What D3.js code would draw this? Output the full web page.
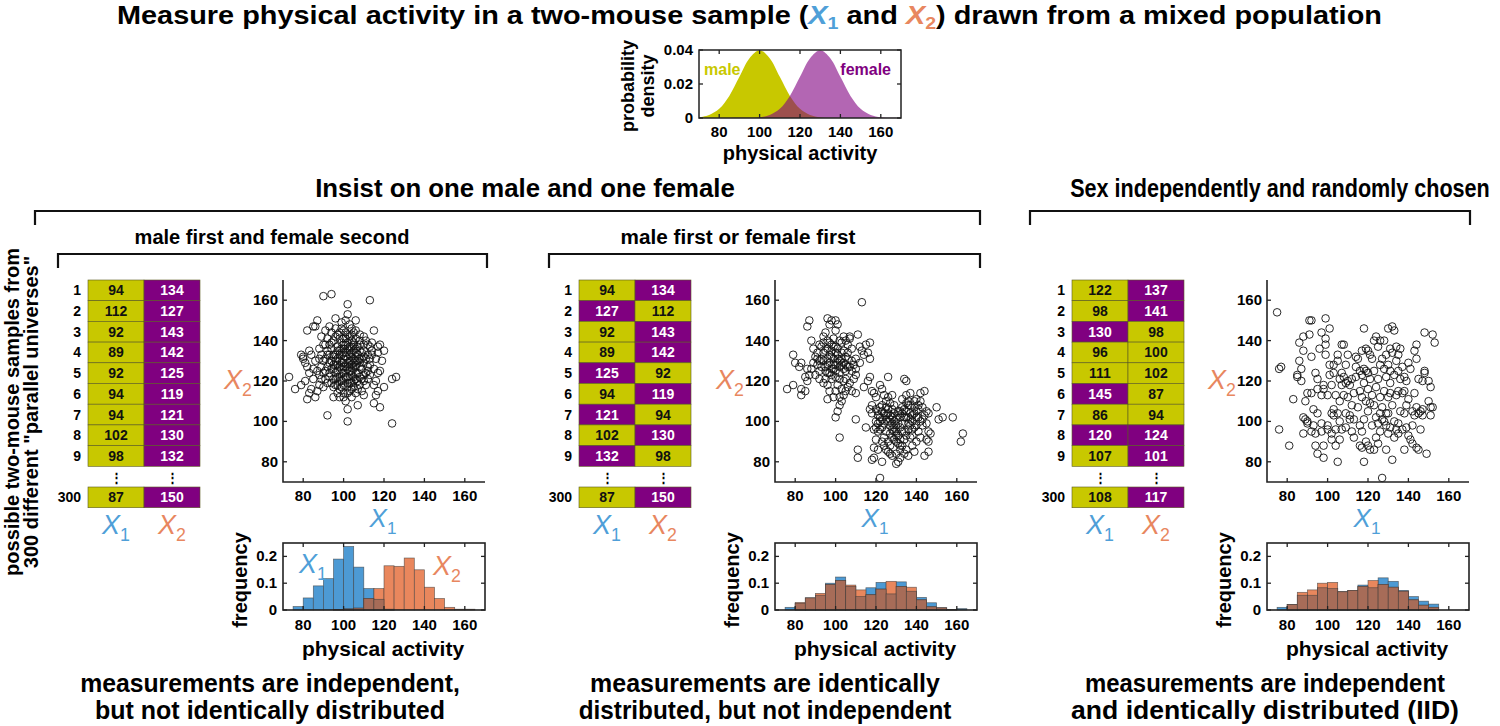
<!DOCTYPE html>
<html>
<head>
<meta charset="utf-8">
<script src="https://cdn.jsdelivr.net/npm/d3@7"></script>
<style>
body { margin: 0; background: #fff; }
svg { display: block; font-family: "Liberation Sans", Arial, sans-serif; }
</style>
</head>
<body>
<svg id="fig" width="1500" height="726"></svg>
<script>
// ---- data ----
var densX = [70,75,80,85,90,95,100,105,110,115,120,125,130,135,140,145,150,155,160,165,170];
var densMale = [0.0004,0.0018,0.0054,0.013,0.0242,0.0352,0.0399,0.0352,0.0242,0.013,0.0054,0.0018,0.0004,0.0001,0,0,0,0,0,0,0];
var densFemale = [0,0,0,0,0.0001,0.0001,0.0004,0.0018,0.0054,0.013,0.0242,0.0352,0.0399,0.0352,0.0242,0.013,0.0054,0.0018,0.0004,0.0001,0];

var rowLabels = ["1","2","3","4","5","6","7","8","9","300"];

var t1X1 = [94,112,92,89,92,94,94,102,98,87];
var t1X2 = [134,127,143,142,125,119,121,130,132,150];
var t1S1 = ["m","m","m","m","m","m","m","m","m","m"];
var t1S2 = ["f","f","f","f","f","f","f","f","f","f"];

var t2X1 = [94,127,92,89,125,94,121,102,132,87];
var t2X2 = [134,112,143,142,92,119,94,130,98,150];
var t2S1 = ["m","f","m","m","f","m","f","m","f","m"];
var t2S2 = ["f","m","f","f","m","f","m","f","m","f"];

var t3X1 = [122,98,130,96,111,145,86,120,107,108];
var t3X2 = [137,141,98,100,102,87,94,124,101,117];
var t3S1 = ["m","m","f","m","m","f","m","f","m","m"];
var t3S2 = ["f","f","m","m","m","m","m","f","f","f"];

var scatter1 = [[90,162],[94,163],[102,158],[113,160],[102,153],[96,151],[101,150],[106,150],[87,150],[85,147],[82,145],[86,147],[115,145],[89,142],[91,145],[93,147],[99,149],[104,146],[108,143],[118,138],[120,135],[117,137],[114,139],[79,133],[80,131],[81,129],[83,135],[84,133],[86,130],[73,122],[76,116],[79,118],[81,120],[82,111],[83,114],[84,116],[86,112],[87,115],[85,121],[88,123],[90,117],[92,103],[95,112],[100,112],[101,110],[102,106],[102,100],[104,112],[107,108],[110,113],[115,109],[118,107],[120,117],[124,121],[126,122],[124,99],[115,118],[116,120],[117,124],[118,125],[116,113],[117,115],[115,126],[119,130],[112,133],[110,135],[108,138],[111,140],[113,137],[112,125],[110,120],[108,118],[107,116],[105,117],[103,119],[100,118],[98,120],[97,122],[95,121],[93,124],[92,127],[90,130],[89,133],[88,136],[90,138],[92,135],[94,139],[96,142],[98,144],[100,141],[102,143],[104,140],[106,141],[107,137],[105,135],[103,137],[101,138],[99,136],[97,135],[95,133],[94,130],[96,128],[98,127],[100,129],[102,131],[104,132],[106,130],[108,131],[110,129],[109,126],[107,124],[105,126],[103,127],[101,125],[99,124],[97,125],[95,126],[94,119],[96,118],[98,116],[100,121],[102,122],[104,123],[106,121],[108,122],[110,123],[112,121],[113,128],[111,131],[109,134],[107,133],[105,129],[103,130],[101,132],[99,133],[97,131],[95,132],[93,129],[91,125],[89,127],[88,131],[87,125],[99,139],[101,141],[103,135],[105,138],[100,134],[102,126],[104,128],[98,130],[96,124],[100,127],[102,119],[104,125],[106,127],[108,127],[93,133],[91,131],[85,126],[83,124],[82,127],[80,132],[114,133],[116,131],[113,123],[111,118],[109,115],[103,115],[99,117],[97,114],[95,117],[106,134],[104,137],[98,141],[96,146],[94,144],[92,141],[91,138],[100,145],[103,148],[105,144],[108,140],[110,142],[112,138],[114,135],[117,134],
[96,130],[97,128],[98,133],[99,126],[100,131],[101,127],[102,129],[103,133],[104,130],[105,131],[106,128],[97,137],[99,129],[101,134],[103,125],[105,122],[100,124],[98,122],[96,121],[102,117],[104,119],[106,124],[108,129],[107,130],[109,131],[100,136],[102,139],[104,134],[95,128],[94,126],[93,122],[92,119],[91,121],[90,124],[89,121],[88,118],[106,114],[104,116],[102,114],[100,114],[98,112],[97,118],[99,120],[101,122],[103,121],[105,120],[107,120],[109,121],[111,124],[112,127],[110,132],[108,135],[106,136],[105,139],[103,142],[101,144],[99,146],[97,143],[95,140],[93,138],[92,133],[94,136],[96,133],[98,135],[100,138],[102,136],[104,143],[106,145],[110,138],[113,131]];

var scatter2 = [[76,116],[79,118],[79,133],[80,129],[82,127],[83,129],[83,116],[83,113],[85,115],[86,120],[85,122],[86,126],[87,123],[86,147],[87,150],[88,140],[89,136],[90,132],[91,131],[93,137],[94,142],[95,144],[96,151],[97,148],[98,150],[100,150],[101,148],[100,145],[99,141],[97,139],[95,135],[94,130],[96,128],[98,126],[99,131],[100,134],[101,129],[102,127],[103,131],[104,135],[105,132],[106,138],[107,141],[108,130],[109,128],[110,126],[111,143],[112,137],[113,135],[115,138],[117,139],[117,131],[116,134],[114,133],[112,129],[110,123],[108,125],[106,127],[104,126],[102,124],[100,122],[98,121],[96,118],[95,121],[94,119],[96,111],[100,115],[100,102],[101,105],[102,108],[103,110],[102,112],[104,113],[105,115],[106,117],[108,115],[110,114],[113,159],[102,92],[110,101],[111,82],[111,86],[115,97],[114,117],[116,120],[117,122],[118,115],[118,108],[97,124],[99,128],[101,136],[103,139],[105,140],[107,142],[93,127],[92,125],[95,125],[97,133],[99,137],[101,131],[103,128],[105,125],[107,127],[96,136],[98,138],[94,134],[92,130],[91,134],[118,81],[119,82],[119,87],[121,86],[120,91],[122,72],[123,80],[121,95],[120,97],[120,100],[122,102],[121,105],[122,107],[123,108],[124,104],[125,110],[124,113],[123,116],[122,118],[126,122],[125,95],[124,92],[126,90],[127,88],[128,96],[128,102],[129,104],[129,100],[130,98],[130,95],[131,93],[132,91],[130,90],[131,80],[130,79],[132,86],[133,88],[134,84],[135,86],[133,99],[134,102],[135,105],[136,108],[135,113],[136,110],[135,120],[134,121],[137,104],[138,100],[138,96],[137,92],[138,88],[139,85],[140,90],[141,95],[140,102],[141,106],[142,110],[142,114],[143,98],[144,103],[145,105],[146,104],[144,115],[145,91],[146,95],[146,90],[147,94],[146,85],[144,83],[150,107],[151,101],[153,102],[158,102],[162,90],[163,94],[127,84],[128,106],[129,108],[131,103],[132,105],[133,107],[126,100],[127,98],[125,101],[123,97],[126,112],[128,113],[132,97],[131,99],[137,98],[139,97],[136,102],[139,107],[140,111],[143,107],[137,114],[134,95],[135,93],[132,82],[129,91],[125,86],[124,88],[121,99],[122,96],[119,96],[117,106],[118,104],[119,114],[120,112],[126,104],[127,103],
[95,127],[96,131],[97,129],[98,132],[99,126],[100,128],[101,133],[102,130],[103,134],[104,129],[105,128],[106,131],[96,124],[98,123],[100,125],[102,121],[104,120],[93,131],[92,138],[94,139],[96,140],[98,135],[100,137],[102,140],[104,142],[106,134],[108,136],[110,131],[109,121],[107,119],[97,115],[99,112],[101,118],[103,116],[105,121],[91,128],[89,129],[88,126],[90,123],[92,121],
[125,103],[126,106],[127,101],[128,99],[129,97],[130,101],[131,105],[132,102],[133,104],[134,106],[135,102],[136,99],[137,101],[138,103],[139,104],[140,105],[141,102],[142,100],[129,95],[130,93],[131,89],[132,88],[128,92],[127,94],[124,99],[123,101],[122,100],[121,103],[120,106],[123,105],[125,107],[127,109],[133,111],[135,109],[137,108],[139,110],[141,108],[136,96],[134,91],[133,95],[138,93],[140,98],[143,101],[145,99],[142,92],[126,85],[128,83],[130,84],[136,83],[123,90]];

var scatter3 = [[75,154],[76,126],[77,127],[76,96],[81,88],[83,111],[85,122],[85,123],[86,139],[86,130],[87,126],[87,120],[88,142],[88,135],[88,94],[89,110],[89,101],[90,100],[90,99],[91,143],[91,150],[92,150],[92,132],[92,114],[92,95],[93,106],[94,124],[94,94],[94,88],[95,121],[95,116],[95,104],[95,84],[96,136],[97,144],[97,113],[97,99],[97,95],[98,118],[98,116],[98,88],[98,82],[99,151],[99,141],[99,138],[99,133],[100,113],[100,98],[101,146],[101,128],[101,123],[102,118],[102,94],[102,91],[103,128],[103,124],[103,106],[103,103],[104,113],[104,88],[104,96],[105,133],[105,130],[105,104],[105,80],[106,110],[106,100],[106,91],[107,138],[107,124],[107,118],[107,96],[108,138],[108,122],[108,113],[109,128],[109,119],[109,104],[109,97],[110,133],[110,120],[110,112],[111,118],[111,103],[112,121],[112,108],[112,95],[113,114],[113,101],[114,122],[114,132],[115,131],[115,107],[116,125],[116,115],[116,98],[116,88],[117,135],[117,123],[117,112],[117,95],[117,87],[118,146],[118,126],[118,119],[118,101],[118,80],[119,136],[119,110],[119,90],[120,135],[120,124],[120,116],[120,105],[120,88],[121,133],[121,121],[121,86],[122,131],[122,113],[122,98],[123,140],[123,125],[123,108],[123,86],[124,142],[124,117],[124,102],[125,137],[125,121],[125,99],[125,89],[126,140],[126,128],[126,112],[126,104],[126,95],[127,131],[127,107],[127,72],[128,126],[128,140],[128,100],[128,115],[129,133],[129,122],[129,98],[129,86],[130,146],[130,128],[130,112],[130,104],[130,94],[131,136],[131,125],[131,119],[131,97],[132,147],[132,134],[132,108],[132,81],[133,145],[133,123],[133,100],[133,92],[134,137],[134,130],[134,113],[134,96],[135,133],[135,115],[135,99],[135,94],[136,136],[136,121],[136,105],[137,127],[137,114],[137,96],[138,122],[138,104],[138,86],[139,120],[139,108],[139,97],[140,129],[140,111],[140,93],[141,126],[141,91],[142,105],[142,89],[143,135],[143,114],[143,103],[144,138],[144,131],[144,107],[144,87],[145,121],[145,104],[145,86],[146,105],[146,96],[147,120],[147,106],[148,144],[148,125],[148,124],[149,84],[150,110],[150,120],[151,117],[151,107],[151,103],[152,143],[152,107],[153,139],[88,102],[90,114],[93,98],[100,96],[102,104],[106,121],[111,101],[113,92],[114,127],[119,125],[121,109],[124,92],[127,101],[129,104],[131,114],[135,125],[138,115],[142,98],[147,103]];

var binStarts = [75,80,85,90,95,100,105,110,115,120,125,130,135,140,145,150,155,160];
var hist1X1 = [0.013,0.045,0.09,0.117,0.19,0.237,0.16,0.08,0.04,0.003,0,0,0,0,0,0,0,0];
var hist1X2 = [0,0,0,0,0.002,0.004,0.007,0.043,0.08,0.165,0.163,0.194,0.15,0.085,0.043,0.01,0.003,0.003];
var hist2X1 = [0.01,0.025,0.045,0.055,0.1,0.123,0.088,0.05,0.083,0.103,0.06,0.105,0.07,0.047,0.027,0.008,0.002,0.005];
var hist2X2 = [0,0.028,0.045,0.062,0.095,0.11,0.093,0.075,0.057,0.078,0.107,0.088,0.085,0.038,0.012,0.008,0.002,0];
var hist3X1 = [0.01,0.02,0.055,0.055,0.083,0.08,0.068,0.073,0.093,0.083,0.12,0.107,0.073,0.05,0.033,0.022,0,0];
var hist3X2 = [0,0.02,0.066,0.075,0.1,0.103,0.068,0.073,0.088,0.11,0.095,0.085,0.07,0.038,0.018,0.01,0,0];

var actTicks = [80,100,120,140,160];
var freqTicks = [0,0.1,0.2];
var densTicks = [0,0.02,0.04];

// ---- colours ----
var YELLOW = "#c8c800", PURPLE = "#800080";
var BLUE = "#4f9fd8", ORANGE = "#e8875f";
var HBLUE = "#4d9ad4", HORANGE = "#e9875d", HBROWN = "#a76c58";

var svg = d3.select("#fig");

// "X" with a subscript
function xSym(g, x, y, n, size, color) {
    var t = g.append("text").attr("x", x).attr("y", y)
        .attr("text-anchor", "middle").attr("fill", color)
        .attr("font-size", size);
    t.append("tspan").attr("font-style", "italic").text("X");
    t.append("tspan").attr("font-size", size * 0.66).attr("dy", size * 0.25).text(n);
    return t;
}

function bracket(x1, x2, y, drop) {
    svg.append("path")
        .attr("d", "M" + x1 + "," + (y + drop) + "V" + y + "H" + x2 + "V" + (y + drop))
        .attr("fill", "none").attr("stroke", "#111").attr("stroke-width", 2.2);
}

// condensed bold headings: squeeze horizontally to the width seen in the figure
function header(x, y, txt, size, len) {
    var t = svg.append("text").attr("x", 0).attr("y", 0)
        .attr("text-anchor", "middle")
        .attr("font-weight", "bold").attr("font-size", size)
        .text(txt);
    var w = t.node().getComputedTextLength();
    t.attr("transform", "translate(" + x + "," + y + ")scale(" + (len / w) + ",1)");
}

// ---- title ----
var title = svg.append("text").attr("x", 0).attr("y", 0)
    .attr("font-weight", "bold").attr("font-size", 25);
title.append("tspan").text("Measure physical activity in a two-mouse sample (");
title.append("tspan").attr("font-style", "italic").attr("fill", BLUE).text("X");
title.append("tspan").attr("fill", BLUE).attr("font-size", 17).attr("dy", 5).text("1");
title.append("tspan").attr("dy", -5).text(" and ");
title.append("tspan").attr("font-style", "italic").attr("fill", ORANGE).text("X");
title.append("tspan").attr("fill", ORANGE).attr("font-size", 17).attr("dy", 5).text("2");
title.append("tspan").attr("dy", -5).text(") drawn from a mixed population");
(function() {
    var w = title.node().getComputedTextLength();
    title.attr("transform", "translate(117,24)scale(" + (1265 / w) + ",1)");
})();

// ---- density plot ----
(function() {
    var x = d3.scaleLinear().domain([70, 170]).range([699, 901]);
    var y = d3.scaleLinear().domain([0, 0.04]).range([118, 50]);
    var g = svg.append("g");
    g.append("defs").append("clipPath").attr("id", "dclip")
        .append("rect").attr("x", 699).attr("y", 50).attr("width", 202).attr("height", 68);
    var area = d3.area().x(function(d, i) { return x(densX[i]); })
        .y0(y(0)).y1(function(d) { return y(d); }).curve(d3.curveCatmullRom);
    g.append("path").datum(densMale).attr("d", area).attr("fill", YELLOW).attr("clip-path", "url(#dclip)");
    g.append("path").datum(densFemale).attr("d", area).attr("fill", PURPLE).attr("fill-opacity", 0.6).attr("clip-path", "url(#dclip)");
    g.append("rect").attr("x", 699).attr("y", 50).attr("width", 202).attr("height", 68)
        .attr("fill", "none").attr("stroke", "#222").attr("stroke-width", 1.5);
    actTicks.forEach(function(t) {
        g.append("line").attr("x1", x(t)).attr("x2", x(t)).attr("y1", 118).attr("y2", 114).attr("stroke", "#222").attr("stroke-width", 1.3);
        g.append("line").attr("x1", x(t)).attr("x2", x(t)).attr("y1", 50).attr("y2", 54).attr("stroke", "#222").attr("stroke-width", 1.3);
        g.append("text").attr("x", x(t)).attr("y", 137).attr("text-anchor", "middle")
            .attr("font-weight", "bold").attr("font-size", 15).text(t);
    });
    densTicks.forEach(function(t) {
        g.append("line").attr("x1", 699).attr("x2", 703).attr("y1", y(t)).attr("y2", y(t)).attr("stroke", "#222").attr("stroke-width", 1.3);
        g.append("line").attr("x1", 901).attr("x2", 897).attr("y1", y(t)).attr("y2", y(t)).attr("stroke", "#222").attr("stroke-width", 1.3);
        g.append("text").attr("x", 693).attr("y", y(t) + 5).attr("text-anchor", "end")
            .attr("font-weight", "bold").attr("font-size", 15).text(t === 0 ? "0" : t.toFixed(2));
    });
    g.append("text").attr("x", 704).attr("y", 75).attr("fill", YELLOW)
        .attr("font-weight", "bold").attr("font-size", 16).text("male");
    g.append("text").attr("x", 891).attr("y", 75).attr("text-anchor", "end").attr("fill", PURPLE)
        .attr("font-weight", "bold").attr("font-size", 16).text("female");
    g.append("text").attr("x", 800).attr("y", 160).attr("text-anchor", "middle")
        .attr("font-weight", "bold").attr("font-size", 20).text("physical activity");
    g.append("text").attr("transform", "translate(634,86)rotate(-90)").attr("text-anchor", "middle")
        .attr("font-weight", "bold").attr("font-size", 18).text("probability");
    g.append("text").attr("transform", "translate(654,86)rotate(-90)").attr("text-anchor", "middle")
        .attr("font-weight", "bold").attr("font-size", 18).text("density");
})();

// ---- headers and brackets ----
header(525, 197, "Insist on one male and one female", 26, 420);
header(1280, 197, "Sex independently and randomly chosen", 26, 420);
bracket(35, 980, 211, 14);
bracket(1030, 1470, 211, 14);
header(272, 244, "male first and female second", 20, 275);
header(738, 244, "male first or female first", 20, 235);
bracket(58, 487, 254, 14);
bracket(549, 980, 254, 14);

// rotated side label
svg.append("text").attr("transform", "translate(19,412)rotate(-90)").attr("text-anchor", "middle")
    .attr("font-weight", "bold").attr("font-size", 20).text("possible two-mouse samples from");
svg.append("text").attr("transform", "translate(38,412)rotate(-90)").attr("text-anchor", "middle")
    .attr("font-weight", "bold").attr("font-size", 20).text("300 different \"parallel universes\"");

// ---- tables ----
function drawTable(left, v1, v2, s1, s2) {
    var g = svg.append("g");
    var cw = 56, rh = 20.7;
    var rowY = function(i) { return i < 9 ? 280 + i * rh : 487; };
    var cols = [[v1, s1], [v2, s2]];
    cols.forEach(function(c, ci) {
        var cx = left + ci * cw;
        g.selectAll(null).data(c[0]).enter().append("rect")
            .attr("x", cx).attr("y", function(d, i) { return rowY(i); })
            .attr("width", cw).attr("height", rh)
            .attr("fill", function(d, i) { return c[1][i] === "m" ? YELLOW : PURPLE; })
            .attr("stroke", "#5a5a20").attr("stroke-width", 0.6);
        g.selectAll(null).data(c[0]).enter().append("text")
            .attr("x", cx + cw / 2).attr("y", function(d, i) { return rowY(i) + rh / 2 + 5; })
            .attr("text-anchor", "middle").attr("font-weight", "bold").attr("font-size", 14)
            .attr("fill", function(d, i) { return c[1][i] === "m" ? "#111" : "#fff"; })
            .text(function(d) { return d; });
        g.append("text").attr("x", cx + cw / 2).attr("y", 482).attr("text-anchor", "middle")
            .attr("font-weight", "bold").attr("font-size", 13).text("\u22ee");
    });
    g.selectAll(null).data(rowLabels).enter().append("text")
        .attr("x", left - 7).attr("y", function(d, i) { return rowY(i) + rh / 2 + 5; })
        .attr("text-anchor", "end").attr("font-weight", "bold").attr("font-size", 14)
        .text(function(d) { return d; });
    xSym(g, left + cw / 2, 534, "1", 27, BLUE);
    xSym(g, left + cw * 1.5, 534, "2", 27, ORANGE);
}
drawTable(88, t1X1, t1X2, t1S1, t1S2);
drawTable(579, t2X1, t2X2, t2S1, t2S2);
drawTable(1072, t3X1, t3X2, t3S1, t3S2);

// ---- scatter plots ----
function drawScatter(left, pts) {
    var g = svg.append("g");
    var x = d3.scaleLinear().domain([70, 170]).range([left, left + 202]);
    var y = d3.scaleLinear().domain([70, 170]).range([482, 280]);
    g.selectAll("circle").data(pts).enter().append("circle")
        .attr("cx", function(d) { return x(d[0]); }).attr("cy", function(d) { return y(d[1]); })
        .attr("r", 3.8).attr("fill", "none").attr("stroke", "#111").attr("stroke-width", 0.9);
    g.append("path").attr("d", "M" + left + ",280V482H" + (left + 202))
        .attr("fill", "none").attr("stroke", "#222").attr("stroke-width", 1.6);
    actTicks.forEach(function(t) {
        g.append("line").attr("x1", x(t)).attr("x2", x(t)).attr("y1", 482).attr("y2", 478).attr("stroke", "#222").attr("stroke-width", 1.3);
        g.append("text").attr("x", x(t)).attr("y", 501).attr("text-anchor", "middle")
            .attr("font-weight", "bold").attr("font-size", 15).text(t);
        g.append("line").attr("x1", left).attr("x2", left + 4).attr("y1", y(t)).attr("y2", y(t)).attr("stroke", "#222").attr("stroke-width", 1.3);
        g.append("text").attr("x", left - 5).attr("y", y(t) + 5).attr("text-anchor", "end")
            .attr("font-weight", "bold").attr("font-size", 15).text(t);
    });
    xSym(g, left - 45, 389, "2", 27, ORANGE);
    xSym(g, left + 100, 527, "1", 26, BLUE);
}
drawScatter(283, scatter1);
drawScatter(775, scatter2);
drawScatter(1267, scatter3);

// ---- histograms ----
function drawHist(left, hb, ho, labels) {
    var g = svg.append("g");
    var x = d3.scaleLinear().domain([70, 170]).range([left, left + 202]);
    var y = d3.scaleLinear().domain([0, 0.25]).range([610, 543]);
    var overlap = hb.map(function(d, i) { return Math.min(d, ho[i]); });
    [[hb, HBLUE], [ho, HORANGE], [overlap, HBROWN]].forEach(function(s) {
        g.selectAll(null).data(s[0]).enter().append("rect")
            .attr("x", function(d, i) { return x(binStarts[i]); })
            .attr("y", function(d) { return y(d); })
            .attr("width", x(binStarts[1]) - x(binStarts[0]))
            .attr("height", function(d) { return y(0) - y(d); })
            .attr("fill", s[1]).attr("stroke", "#3a3a3a").attr("stroke-opacity", 0.7).attr("stroke-width", 0.7)
            .attr("display", function(d) { return d > 0 ? null : "none"; });
    });
    g.append("rect").attr("x", left).attr("y", 543).attr("width", 202).attr("height", 67)
        .attr("fill", "none").attr("stroke", "#222").attr("stroke-width", 1.6);
    actTicks.forEach(function(t) {
        g.append("line").attr("x1", x(t)).attr("x2", x(t)).attr("y1", 610).attr("y2", 606).attr("stroke", "#222").attr("stroke-width", 1.3);
        g.append("line").attr("x1", x(t)).attr("x2", x(t)).attr("y1", 543).attr("y2", 547).attr("stroke", "#222").attr("stroke-width", 1.3);
        g.append("text").attr("x", x(t)).attr("y", 630).attr("text-anchor", "middle")
            .attr("font-weight", "bold").attr("font-size", 15).text(t);
    });
    freqTicks.forEach(function(t) {
        g.append("line").attr("x1", left).attr("x2", left + 4).attr("y1", y(t)).attr("y2", y(t)).attr("stroke", "#222").attr("stroke-width", 1.3);
        g.append("line").attr("x1", left + 202).attr("x2", left + 198).attr("y1", y(t)).attr("y2", y(t)).attr("stroke", "#222").attr("stroke-width", 1.3);
        g.append("text").attr("x", left - 6).attr("y", y(t) + 5).attr("text-anchor", "end")
            .attr("font-weight", "bold").attr("font-size", 15).text(t === 0 ? "0" : t.toFixed(1));
    });
    g.append("text").attr("x", left + 100).attr("y", 656).attr("text-anchor", "middle")
        .attr("font-weight", "bold").attr("font-size", 21).text("physical activity");
    g.append("text").attr("transform", "translate(" + (left - 36) + ",580)rotate(-90)").attr("text-anchor", "middle")
        .attr("font-weight", "bold").attr("font-size", 20).text("frequency");
    if (labels) {
        xSym(g, left + 30, 573, "1", 27, BLUE);
        xSym(g, left + 164, 575, "2", 27, ORANGE);
    }
}
drawHist(283, hist1X1, hist1X2, true);
drawHist(775, hist2X1, hist2X2, false);
drawHist(1267, hist3X1, hist3X2, false);

// ---- bottom statements ----
header(270, 692, "measurements are independent,", 26, 380);
header(270, 719, "but not identically distributed", 26, 350);
header(765, 692, "measurements are identically", 26, 350);
header(765, 719, "distributed, but not independent", 26, 373);
header(1265, 692, "measurements are independent", 26, 360);
header(1265, 719, "and identically distributed (IID)", 26, 388);
</script>
</body>
</html>
